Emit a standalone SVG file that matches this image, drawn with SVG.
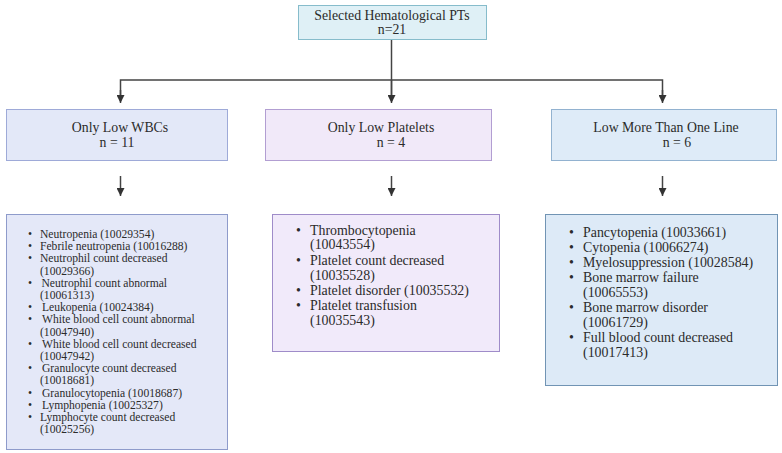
<svg xmlns="http://www.w3.org/2000/svg" width="782" height="453" viewBox="0 0 782 453">
<defs>
<marker id="ah" viewBox="0 0 8 8" refX="8" refY="4" markerWidth="8" markerHeight="8" markerUnits="userSpaceOnUse" orient="auto">
<path d="M0,0 L8,4 L0,8 Z" fill="#333"/>
</marker>
<style>
text{font-family:"Liberation Serif","DejaVu Serif",serif;fill:#2b2b2b}
.t{font-size:13.8px;text-anchor:middle}
.l1{font-size:11.6px}
.l2{font-size:13.9px}
.conn{fill:none;stroke:#444;stroke-width:1.5}
</style>
</defs>
<rect width="782" height="453" fill="#ffffff"/>
<g id="connectors">
<path class="conn" d="M391.5,40 V101"/>
<path class="conn" d="M120.5,101 V80 H662.5 V101"/>
<path class="conn" d="M391.5,80 V103" marker-end="url(#ah)"/>
<path class="conn" d="M120.5,90 V103" marker-end="url(#ah)"/>
<path class="conn" d="M662.5,90 V103" marker-end="url(#ah)"/>
<path class="conn" d="M120.5,176 V196" marker-end="url(#ah)"/>
<path class="conn" d="M391.5,176 V196" marker-end="url(#ah)"/>
<path class="conn" d="M662.5,176 V196" marker-end="url(#ah)"/>
</g>
<g id="root">
<rect x="298.5" y="5.5" width="188" height="34" fill="#dff0f6" stroke="#86bccb"/>
<text class="t" x="392" y="19.5">Selected Hematological PTs</text>
<text class="t" x="392" y="34">n=21</text>
</g>
<g id="wbc">
<rect x="6.5" y="109.5" width="221" height="51" fill="#e3e8f8" stroke="#9eaad8"/>
<text class="t" x="120" y="132">Only Low WBCs</text>
<text class="t" x="117" y="147">n = 11</text>
</g>
<g id="plt">
<rect x="265.5" y="109.5" width="226" height="51" fill="#f1e9f9" stroke="#b29ed2"/>
<text class="t" x="381" y="132">Only Low Platelets</text>
<text class="t" x="391" y="147">n = 4</text>
</g>
<g id="multi">
<rect x="551.5" y="109.5" width="225" height="51" fill="#deebf8" stroke="#92b2d0"/>
<text class="t" x="666" y="132">Low More Than One Line</text>
<text class="t" x="677" y="147">n = 6</text>
</g>
<g id="wbc-list">
<rect x="6.5" y="214.5" width="221" height="235" fill="#e4e8f8" stroke="#8e9bcb"/>
<g class="l1">
<text x="28" y="238">•</text><text x="40" y="238">Neutropenia (10029354)</text>
<text x="28" y="250">•</text><text x="40" y="250">Febrile neutropenia (10016288)</text>
<text x="28" y="262">•</text><text x="40" y="262">Neutrophil count decreased</text>
<text x="40" y="275">(10029366)</text>
<text x="28" y="287">•</text><text x="41.5" y="287">Neutrophil count abnormal</text>
<text x="40" y="299">(10061313)</text>
<text x="28" y="311">•</text><text x="42" y="311">Leukopenia (10024384)</text>
<text x="28" y="323">•</text><text x="42" y="323">White blood cell count abnormal</text>
<text x="40" y="336">(10047940)</text>
<text x="28" y="348">•</text><text x="42" y="348">White blood cell count decreased</text>
<text x="40" y="360">(10047942)</text>
<text x="28" y="372">•</text><text x="42" y="372">Granulocyte count decreased</text>
<text x="40" y="384">(10018681)</text>
<text x="28" y="397">•</text><text x="42" y="397">Granulocytopenia (10018687)</text>
<text x="28" y="409">•</text><text x="42" y="409">Lymphopenia (10025327)</text>
<text x="28" y="421">•</text><text x="40" y="421">Lymphocyte count decreased</text>
<text x="40" y="433">(10025256)</text>
</g>
</g>
<g id="plt-list">
<rect x="272.5" y="214.5" width="227" height="137" fill="#f1eafa" stroke="#9f8cc9"/>
<g class="l2">
<text x="296" y="235">•</text><text x="310" y="235">Thrombocytopenia</text>
<text x="310" y="249">(10043554)</text>
<text x="296" y="265">•</text><text x="310" y="265">Platelet count decreased</text>
<text x="310" y="280">(10035528)</text>
<text x="296" y="295">•</text><text x="310" y="295">Platelet disorder (10035532)</text>
<text x="296" y="310">•</text><text x="310" y="310">Platelet transfusion</text>
<text x="310" y="325">(10035543)</text>
</g>
</g>
<g id="multi-list">
<rect x="545.5" y="214.5" width="232" height="171" fill="#ddeaf7" stroke="#7194b4"/>
<g class="l2">
<text x="569" y="237">•</text><text x="583" y="237">Pancytopenia (10033661)</text>
<text x="569" y="252">•</text><text x="583" y="252">Cytopenia (10066274)</text>
<text x="569" y="267">•</text><text x="583" y="267">Myelosuppression (10028584)</text>
<text x="569" y="282">•</text><text x="583" y="282">Bone marrow failure</text>
<text x="583" y="297">(10065553)</text>
<text x="569" y="312">•</text><text x="583" y="312">Bone marrow disorder</text>
<text x="583" y="327">(10061729)</text>
<text x="569" y="342">•</text><text x="583" y="342">Full blood count decreased</text>
<text x="583" y="357">(10017413)</text>
</g>
</g>
</svg>
